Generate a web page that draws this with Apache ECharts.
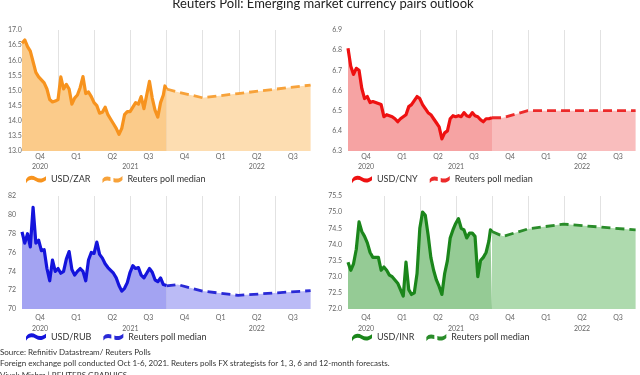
<!DOCTYPE html>
<html><head><meta charset="utf-8">
<script src="https://cdn.jsdelivr.net/npm/echarts@6/dist/echarts.min.js"></script>
<style>html,body{margin:0;padding:0;background:#fff}#c{width:640px;height:375px}</style>
</head><body><div id="c"></div>
<script>
const quarterLabels = ['Q4','Q1','Q2','Q3','Q4','Q1','Q2','Q3'];
const yearLabels = {1:'2020', 6:'2021', 13:'2022'}; // keyed by half-quarter tick

const actualDates = ['2020-10-01','2020-10-08','2020-10-15','2020-10-22','2020-10-29','2020-11-05','2020-11-12','2020-11-19','2020-11-26','2020-12-03','2020-12-10','2020-12-17','2020-12-24','2020-12-31',
'2021-01-07','2021-01-14','2021-01-21','2021-01-28','2021-02-04','2021-02-11','2021-02-18','2021-02-25','2021-03-04','2021-03-11','2021-03-18','2021-03-25','2021-04-01',
'2021-04-08','2021-04-15','2021-04-22','2021-04-29','2021-05-06','2021-05-13','2021-05-20','2021-05-27','2021-06-03','2021-06-10','2021-06-17','2021-06-24','2021-07-01',
'2021-07-08','2021-07-15','2021-07-22','2021-07-29','2021-08-05','2021-08-12','2021-08-19','2021-08-26','2021-09-02','2021-09-09','2021-09-16','2021-09-23','2021-09-27','2021-10-01'];
const forecastDates = ['2021-10-01','2021-10-29','2021-12-31','2022-03-31','2022-09-30'];

const zarActual = [16.56,16.67,16.45,16.3,15.95,15.6,15.45,15.35,15.25,15.05,14.7,14.62,14.65,14.7,
15.45,15.05,15.2,15.05,14.55,14.75,14.85,15.1,15.46,14.9,14.95,14.8,14.6,
14.5,14.25,14.28,14.45,14.2,14.05,13.9,13.75,13.55,13.75,14.2,14.3,14.3,
14.45,14.6,14.55,14.8,14.4,14.85,15.3,14.75,14.35,14.12,14.6,14.85,15.15,15.05];
const zarForecast = [15.05,14.95,14.76,14.9,15.18];

const cnyActual = [6.81,6.72,6.68,6.71,6.70,6.61,6.56,6.57,6.54,6.545,6.54,6.535,6.53,6.47,
6.48,6.475,6.47,6.46,6.445,6.46,6.47,6.48,6.52,6.53,6.55,6.57,6.56,
6.53,6.51,6.49,6.48,6.46,6.44,6.42,6.36,6.39,6.40,6.46,6.475,6.47,
6.475,6.47,6.49,6.475,6.47,6.49,6.475,6.47,6.455,6.445,6.46,6.46,6.465,6.465];
const cnyForecast = [6.465,6.465,6.50,6.50,6.50];

const rubActual = [78.2,77.0,78.0,76.6,80.8,77.0,77.3,76.2,76.3,74.3,73.0,75.2,74.0,74.3,
73.8,74.0,75.3,76.1,74.2,73.6,74.0,74.3,74.0,73.0,75.2,76.0,75.9,
77.1,75.8,75.4,74.8,74.4,74.1,73.8,73.3,72.5,71.9,72.2,72.8,73.9,
74.6,74.3,74.4,73.6,73.3,73.8,74.3,73.9,73.1,72.9,73.3,72.6,72.5,72.5];
const rubForecast = [72.45,72.6,71.9,71.45,71.95];

const inrActual = [73.45,73.2,73.4,73.85,74.7,74.4,74.25,74.05,73.75,73.6,73.6,73.6,73.2,73.3,
73.2,73.05,73.0,72.9,72.8,72.6,72.4,73.45,72.6,72.45,72.5,73.1,74.5,
75.0,74.9,74.3,73.6,73.2,72.9,72.7,72.45,73.1,73.5,74.2,74.45,74.65,
74.8,74.5,74.45,74.2,74.35,74.35,74.25,73.0,73.5,73.6,73.75,74.1,74.45,74.4];
const inrForecast = [74.4,74.25,74.48,74.63,74.45];

const FONT = 'Lato';
const panels = [
  {name:'USD/ZAR', actual:zarActual, forecast:zarForecast, line:'#F7931E', fline:'#F7A23A', area:'#FBCB8A', farea:'#FDDDB1',
   min:13, max:17, interval:0.5, dec:1, grid:{left:22, top:30, width:289, height:121}, la:'left', lm:14, qm:2, ym:3, yo:9, leg:{left:26, top:175}},
  {name:'USD/CNY', actual:cnyActual, forecast:cnyForecast, line:'#EE1111', fline:'#EC2A2A', area:'#F6A3A3', farea:'#F9BDBD',
   min:6.3, max:6.9, interval:0.1, dec:1, grid:{left:348, top:30, width:288, height:121}, la:'right', lm:6, qm:2, ym:3, yo:9, leg:{left:352, top:175}},
  {name:'USD/RUB', actual:rubActual, forecast:rubForecast, line:'#1414DC', fline:'#2A2AD6', area:'#A3A3F2', farea:'#BBBBF6',
   min:70, max:82, interval:2, dec:0, grid:{left:22, top:196, width:289, height:113}, la:'left', lm:14, qm:5, ym:5, yo:11, leg:{left:26, top:332.5}},
  {name:'USD/INR', actual:inrActual, forecast:inrForecast, line:'#1B861B', fline:'#2A8C2A', area:'#95CB95', farea:'#AEDAAE',
   min:72, max:75.5, interval:0.5, dec:1, grid:{left:348, top:196, width:288, height:113}, la:'right', lm:6, qm:5, ym:5, yo:11, leg:{left:352, top:333}}
];

const waveIcon = 'path://M0,5 C3,1 6,1 10,3 C13,5 16,5 20,2 L20,6 C16,9 13,9 10,7 C6,5 3,5 0,9 Z';
const dashIcon = 'path://M0,5 C2,2 5,2 8,3 L8,7 C5,6 2,6 0,9 Z M11,4 C14,5 17,5 20,2 L20,6 C17,9 14,9 11,8 Z';

const grid = [], xAxis = [], yAxis = [], series = [], legend = [];
panels.forEach((p, i) => {
  grid.push(Object.assign({containLabel:false}, p.grid));
  xAxis.push({type:'category', gridIndex:i, data:quarterLabels, boundaryGap:true,
    axisLine:{show:false}, axisTick:{show:false},
    axisLabel:{fontSize:7, color:'#666', margin:p.qm, interval:0, fontFamily:FONT},
    splitLine:{show:true, interval:0, showMinLine:false, showMaxLine:false, lineStyle:{color:'#e2e2e2', width:1}}});
  xAxis.push({type:'time', gridIndex:i, min:'2020-10-01', max:'2022-10-01', show:false});
  xAxis.push({type:'value', gridIndex:i, min:0, max:16, interval:1, position:'bottom', offset:p.yo,
    axisLine:{show:false}, axisTick:{show:false}, splitLine:{show:false},
    axisLabel:{fontSize:7, color:'#666', margin:p.ym, fontFamily:FONT, formatter:v => yearLabels[v] || ''}});
  yAxis.push({type:'value', gridIndex:i, min:p.min, max:p.max, interval:p.interval,
    axisLine:{show:false}, axisTick:{show:false}, splitLine:{show:false},
    axisLabel:{fontSize:7, color:'#666', align:p.la, margin:p.lm, fontFamily:FONT, formatter:v => v.toFixed(p.dec)}});
  series.push({type:'line', name:p.name, xAxisIndex:3*i+1, yAxisIndex:i,
    data: actualDates.map((d, j) => [d, p.actual[j]]), symbol:'none', z:3,
    lineStyle:{color:p.line, width:3.2, join:'round'}, itemStyle:{color:p.line},
    areaStyle:{color:p.area, opacity:1, origin:'start'}});
  series.push({type:'line', name:'Reuters poll median', xAxisIndex:3*i+1, yAxisIndex:i,
    data: forecastDates.map((d, j) => [d, p.forecast[j]]), symbol:'none', z:2,
    lineStyle:{color:p.fline, width:2.8, type:[9,5]}, itemStyle:{color:p.fline},
    areaStyle:{color:p.farea, opacity:1, origin:'start'}});
  legend.push({left:p.leg.left, top:p.leg.top, padding:0, itemWidth:20, itemHeight:9, itemGap:12, selectedMode:false,
    textStyle:{fontSize:9, color:'#333', fontFamily:FONT},
    data:[{name:p.name, icon:waveIcon, itemStyle:{color:p.line, borderWidth:0}},
          {name:'Reuters poll median', icon:dashIcon, itemStyle:{color:p.fline, borderWidth:0}}]});
});

const chart = echarts.init(document.getElementById('c'), null, {renderer:'canvas'});
chart.setOption({
  animation:false,
  grid, xAxis, yAxis, series, legend,
  graphic:[
    {type:'text', x:323, y:3.5, style:{text:'Reuters Poll: Emerging market currency pairs outlook', fill:'#222', font:'13px Lato', textAlign:'center', textVerticalAlign:'middle'}},
    {type:'text', x:0, y:352, style:{text:'Source: Refinitiv Datastream/ Reuters Polls', fill:'#333', font:'8px Lato', textVerticalAlign:'middle'}},
    {type:'text', x:0, y:363.5, style:{text:'Foreign exchange poll conducted Oct 1-6, 2021. Reuters polls FX strategists for 1, 3, 6 and 12-month forecasts.', fill:'#333', font:'8px Lato', textVerticalAlign:'middle'}},
    {type:'text', x:0, y:375, style:{text:'Vivek Mishra | REUTERS GRAPHICS', fill:'#333', font:'8px Lato', textVerticalAlign:'middle'}}
  ]
});
</script></body></html>
